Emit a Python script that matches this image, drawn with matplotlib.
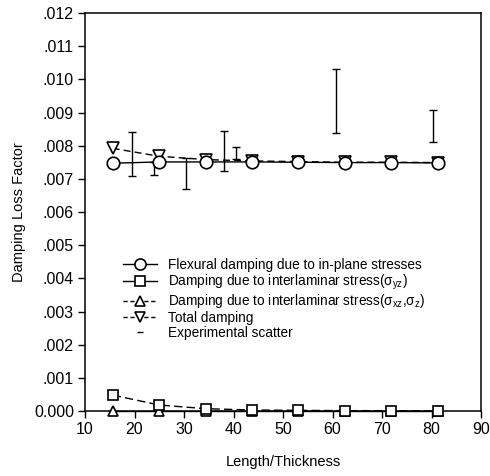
import matplotlib
matplotlib.use("Agg")
import matplotlib.pyplot as plt
from matplotlib.lines import Line2D
import numpy as np

plt.rcParams['font.family'] = ['Liberation Sans', 'DejaVu Sans']
plt.rcParams['mathtext.fontset'] = 'custom'
plt.rcParams['mathtext.rm'] = 'Liberation Sans'
plt.rcParams['mathtext.it'] = 'Liberation Sans'

# ---- data ----
x = [15.6, 25.0, 34.4, 43.8, 53.1, 62.5, 71.9, 81.3]
flexural = [0.00747, 0.00751, 0.00751, 0.00751, 0.00750, 0.00749, 0.00749, 0.00748]
inter_yz = [0.00048, 0.00018, 0.00007, 0.00003, 0.00002, 0.00001, 0.00001, 0.00000]
inter_xz = [0.00000, 0.00000, 0.00000, 0.00000, 0.00000, 0.00000, 0.00000, 0.00000]
total = [0.00792, 0.00768, 0.00758, 0.00754, 0.00752, 0.00750, 0.00750, 0.00749]

exp_x = [19.5, 23.9, 30.4, 38.1, 40.6, 60.7, 80.3]
exp_low = [0.00708, 0.00713, 0.00668, 0.00724, 0.00760, 0.00837, 0.00810]
exp_high = [0.00841, 0.00750, 0.00763, 0.00844, 0.00796, 0.01030, 0.00907]

labels = ["Flexural damping due to in-plane stresses",
          r"Damping due to interlaminar stress($\sigma_{yz}$)",
          r"Damping due to interlaminar stress($\sigma_{xz}$,$\sigma_{z}$)",
          "Total damping",
          "Experimental scatter"]
yticks = [0.000, 0.001, 0.002, 0.003, 0.004, 0.005, 0.006,
          0.007, 0.008, 0.009, 0.010, 0.011, 0.012]
ytick_labels = ["0.000", ".001", ".002", ".003", ".004", ".005", ".006",
                ".007", ".008", ".009", ".010", ".011", ".012"]
xticks = [10, 20, 30, 40, 50, 60, 70, 80, 90]

fig = plt.figure(figsize=(4.90, 4.76), dpi=100)
ax = fig.add_axes([85/490, 1-411/476, 396/490, 398/476])

mk = dict(markerfacecolor='white', markeredgecolor='black', markeredgewidth=1.2, color='black')

exp_mid = [(l + h) / 2 for l, h in zip(exp_low, exp_high)]
exp_err = [[m - l for m, l in zip(exp_mid, exp_low)], [h - m for h, m in zip(exp_high, exp_mid)]]
ax.errorbar(exp_x, exp_mid, yerr=exp_err, fmt='none', ecolor='black',
            elinewidth=1.0, capsize=2.8, capthick=1.0, zorder=2)

ax.plot(x, inter_xz, linestyle='-', linewidth=1.0, marker='^', markersize=7.5, zorder=3, clip_on=False, **mk)
ax.plot(x, inter_yz, linestyle=(0, (6, 3)), linewidth=1.0, marker='s', markersize=7, zorder=3, clip_on=False, **mk)
ax.plot(x, total, linestyle=(0, (5, 3)), linewidth=1.0, marker='v', markersize=8, zorder=3, **mk)
ax.plot(x, flexural, linestyle='-', linewidth=1.0, marker='o', markersize=9, zorder=4, **mk)

ax.set_xlim(10, 90)
ax.set_ylim(0, 0.012)
ax.set_xticks(xticks)
ax.set_xticklabels([str(t) for t in xticks])
ax.set_yticks(yticks)
ax.set_yticklabels(ytick_labels)
ax.tick_params(axis='both', direction='out', length=5, width=1, labelsize=11.5, pad=3)
for s in ax.spines.values():
    s.set_linewidth(1.1)

ax.set_xlabel("Length/Thickness", fontsize=10.5, labelpad=13)
ax.set_ylabel("Damping Loss Factor", fontsize=10.5, labelpad=6)

handles = [
    Line2D([], [], linestyle='-', linewidth=1.0, marker='o', markersize=8, **mk),
    Line2D([], [], linestyle='-', linewidth=1.0, marker='s', markersize=7, **mk),
    Line2D([], [], linestyle=(0, (3, 2)), linewidth=1.0, marker='^', markersize=7, **mk),
    Line2D([], [], linestyle=(0, (3, 2)), linewidth=1.0, marker='v', markersize=7, **mk),
    Line2D([], [], linestyle='none', marker='_', markersize=4, color='black', markeredgewidth=1.0),
]
ax.legend(handles, labels, loc='upper left', bbox_to_anchor=(0.095, 0.385),
          frameon=False, fontsize=9.8, handlelength=2.5, handletextpad=0.8,
          labelspacing=0.05, borderpad=0, borderaxespad=0)

fig.savefig("out.png", dpi=100)
